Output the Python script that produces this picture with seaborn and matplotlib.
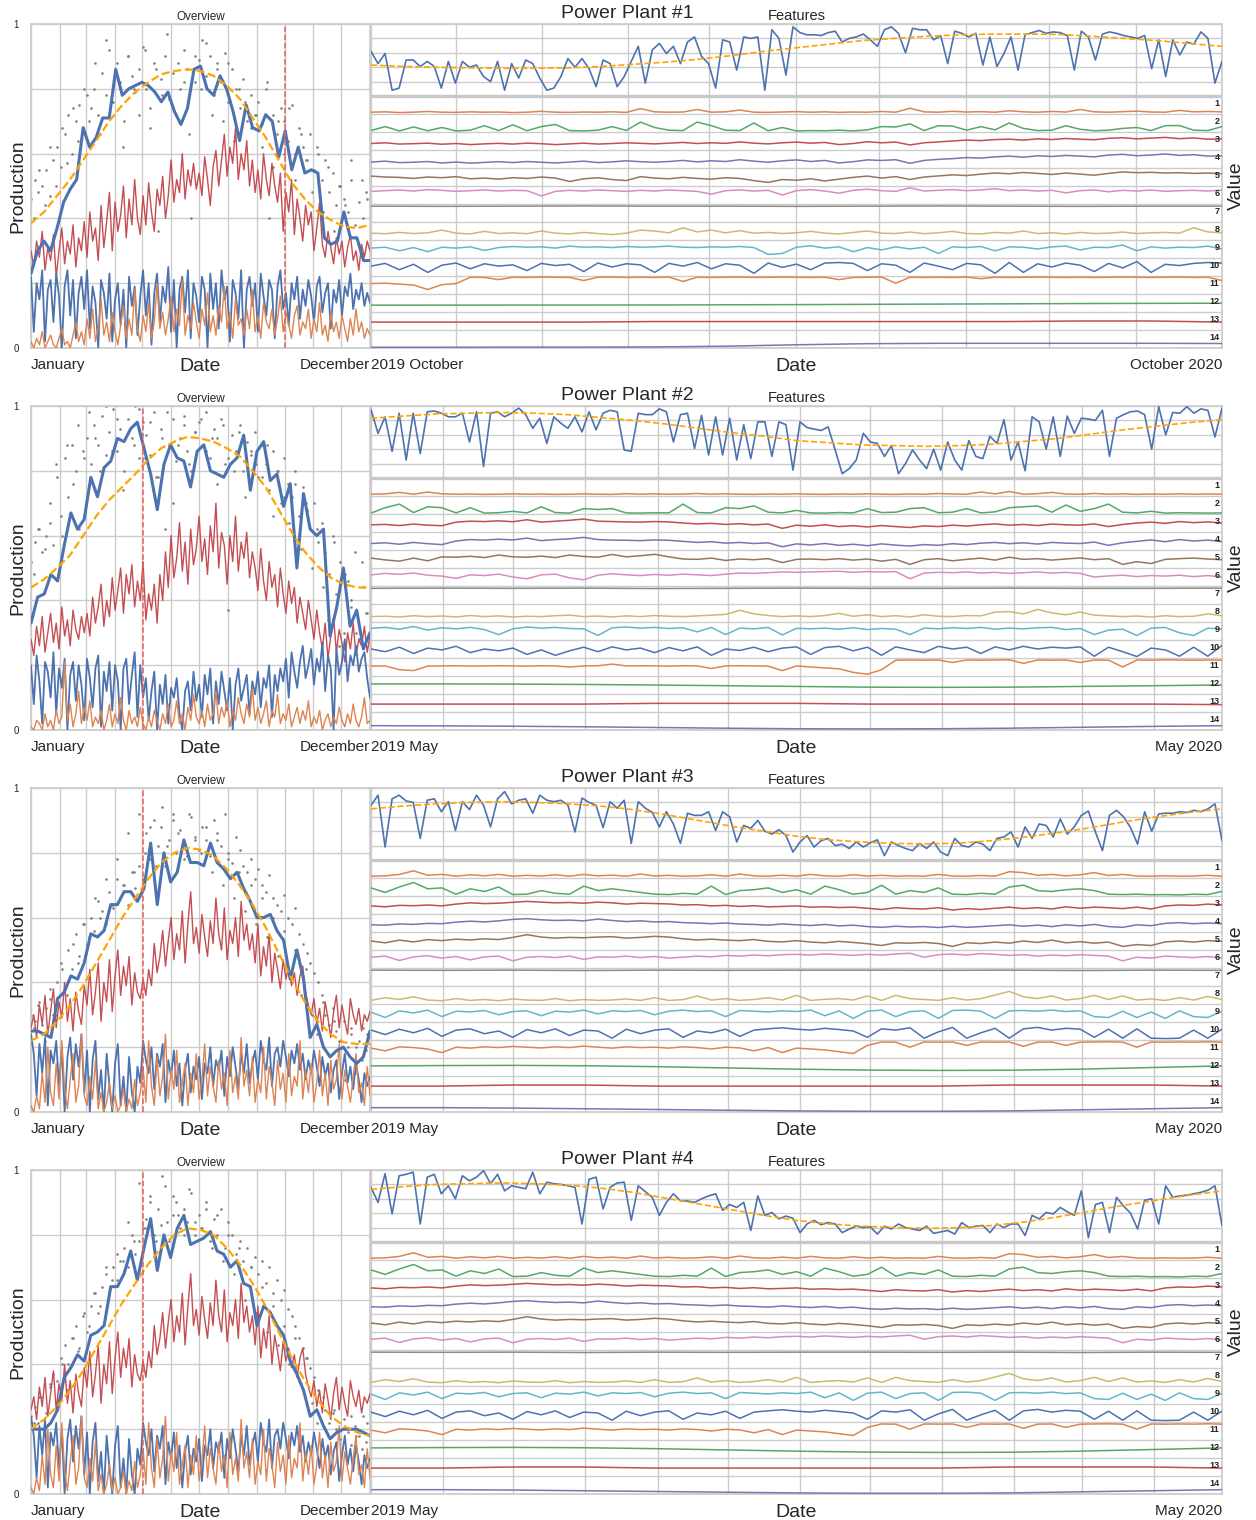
import numpy as np
import matplotlib
matplotlib.use("Agg")
import matplotlib.pyplot as plt
import seaborn as sns

# ---------------------------------------------------------------- labels
PLANT_TITLES = ["Power Plant #1", "Power Plant #2", "Power Plant #3", "Power Plant #4"]
LEFT_TICK_LABELS = ["January", "December"]
RIGHT_TICK_LABELS = [("2019 October", "October 2020"), ("2019 May", "May 2020"),
                     ("2019 May", "May 2020"), ("2019 May", "May 2020")]
CUTOFF_DAY = [274, 121, 121, 121]
MONTH_STARTS = [31, 59, 90, 120, 151, 181, 212, 243, 273, 304, 334]
RIGHT_GRID_R1 = [36.5, 73.3, 110.2, 145.0, 182.3, 217.9, 255.2, 290.8, 328.1]
RIGHT_GRID_R234 = [31, 61, 92, 123, 153, 184, 214, 245, 276, 305, 336]

# ---------------------------------------------------------------- row 1 overview
R1_SCATTER = [0.46,0.52,0.48,0.50,0.55,0.47,0.58,0.62,0.56,0.66,0.72,0.60,0.70,0.75,0.68,0.78,
              0.74,0.80,0.72,0.85,0.78,0.92,0.76,0.88,0.82,0.70,0.90,0.84,0.79,0.86,0.93,
              0.80,0.74,0.88,0.36,0.83,0.90,0.77,0.85,0.72,0.80,0.92,0.86,0.40,0.82,0.89,
              0.95,0.84,0.90,0.78,0.88,0.82,0.91,0.76,0.86,0.80,0.74,0.83,0.70,0.78,0.72,
              0.76,0.69,0.80,0.40,0.72,0.66,0.74,0.70,0.64,0.75,0.60,0.68,0.62,0.58,0.66,
              0.55,0.60,0.52,0.58,0.48,0.54,0.44,0.50,0.46,0.42,0.52,0.38,0.45,0.40,0.48,0.44]
R1_SCATTER_B = [0.40,0.55,0.44,0.62,0.50,0.68,0.57,0.74,0.64,0.80,
                0.70,0.88,0.66,0.95,0.76,0.84,0.62,0.90,0.80,0.72,
                0.92,0.68,0.86,0.78,0.97,0.74,0.88,0.82,0.66,0.90,
                0.80,0.94,0.72,0.86,0.70,0.88,0.64,0.80,0.76,0.68,
                0.72,0.62,0.82,0.56,0.70,0.60,0.74,0.52,0.66,0.58,
                0.48,0.62,0.42,0.56,0.36,0.50,0.44,0.58,0.34,0.52,0.46]
R1_WEEKLY = [0.23,0.30,0.33,0.30,0.37,0.45,0.49,0.52,0.68,0.62,0.65,0.71,0.71,0.86,0.78,0.80,
             0.81,0.82,0.81,0.79,0.76,0.79,0.73,0.69,0.74,0.86,0.87,0.80,0.78,0.84,0.80,0.73,
             0.64,0.75,0.68,0.67,0.72,0.70,0.59,0.67,0.55,0.62,0.54,0.55,0.54,0.34,0.32,0.33,
             0.42,0.34,0.34,0.27,0.27]
R1_FIT = [0.385,0.42,0.47,0.52,0.58,0.64,0.70,0.75,0.79,0.82,0.845,0.855,0.86,0.855,0.84,
          0.81,0.77,0.71,0.65,0.58,0.51,0.46,0.42,0.395,0.375,0.37,0.38]
R1_RED = [0.30,0.25,0.33,0.28,0.36,0.24,0.31,0.27,0.35,0.22,0.30,0.37,0.26,0.33,0.29,0.38,0.25,0.34,0.30,0.39,
          0.28,0.42,0.33,0.37,0.27,0.44,0.31,0.39,0.48,0.30,0.45,0.36,0.41,0.50,0.34,0.46,0.38,0.52,0.40,0.35,
          0.47,0.38,0.51,0.42,0.36,0.49,0.44,0.53,0.40,0.47,0.58,0.45,0.52,0.48,0.60,0.46,0.55,0.50,0.57,0.49,
          0.54,0.47,0.59,0.52,0.44,0.56,0.61,0.50,0.58,0.66,0.53,0.62,0.57,0.68,0.52,0.60,0.55,0.64,0.50,0.58,
          0.48,0.55,0.46,0.60,0.52,0.47,0.57,0.50,0.45,0.54,0.36,0.48,0.42,0.52,0.35,0.46,0.40,0.33,0.44,0.38,
          0.42,0.30,0.37,0.45,0.32,0.28,0.36,0.31,0.26,0.34,0.29,0.33,0.25,0.31,0.35,0.27,0.30,0.24,0.32,0.28,0.33,0.30]
R1_BLUE = [0.22,0.05,0.20,0.15,0.24,0.02,0.18,0.21,0.08,0.23,0.16,0.00,0.19,0.24,0.10,0.21,0.03,0.17,0.22,0.12,
           0.24,0.06,0.19,0.14,0.00,0.21,0.17,0.09,0.23,0.02,0.15,0.20,0.07,0.18,0.00,0.22,0.13,0.19,0.04,0.16,
           0.24,0.10,0.20,0.01,0.17,0.23,0.08,0.19,0.14,0.25,0.05,0.21,0.00,0.18,0.22,0.11,0.24,0.03,0.20,0.16,
           0.08,0.22,0.18,0.00,0.23,0.12,0.20,0.06,0.24,0.15,0.19,0.02,0.21,0.17,0.09,0.24,0.00,0.18,0.22,0.13,
           0.20,0.05,0.23,0.16,0.10,0.21,0.18,0.03,0.19,0.24,0.12,0.17,0.07,0.20,0.15,0.22,0.09,0.18,0.13,0.21,
           0.16,0.08,0.19,0.22,0.11,0.17,0.20,0.06,0.18,0.14,0.21,0.10,0.19,0.16,0.23,0.12,0.18,0.15,0.20,0.13,0.17,0.14]
R1_ORANGE = [0.02,0.00,0.03,0.01,0.05,0.00,0.02,0.04,0.01,0.00,0.03,0.06,0.01,0.02,0.00,0.04,0.08,0.02,0.05,0.01,
             0.09,0.03,0.12,0.02,0.06,0.15,0.04,0.08,0.02,0.11,0.05,0.01,0.07,0.13,0.03,0.09,0.04,0.18,0.06,0.02,
             0.10,0.05,0.14,0.03,0.08,0.20,0.06,0.11,0.04,0.09,0.16,0.05,0.12,0.07,0.21,0.04,0.10,0.06,0.14,0.08,
             0.03,0.12,0.07,0.17,0.05,0.10,0.04,0.13,0.08,0.19,0.06,0.11,0.03,0.15,0.07,0.09,0.04,0.12,0.06,0.18,
             0.05,0.10,0.03,0.14,0.08,0.06,0.12,0.04,0.09,0.16,0.05,0.11,0.07,0.03,0.10,0.13,0.04,0.08,0.06,0.12,
             0.03,0.09,0.05,0.14,0.04,0.07,0.02,0.11,0.05,0.08,0.03,0.10,0.06,0.02,0.09,0.04,0.12,0.05,0.08,0.03,0.06,0.04]

# ---------------------------------------------------------------- row 2 overview
R2_SCATTER = [0.52,0.58,0.62,0.55,0.60,0.64,0.57,0.78,0.66,0.84,0.72,0.88,0.80,0.62,0.86,0.90,
              0.82,0.94,0.88,0.97,0.85,0.92,0.99,0.86,0.93,0.80,0.96,0.90,1.00,0.84,0.95,
              0.91,0.85,0.98,0.78,0.93,0.62,0.88,0.96,0.83,0.90,0.97,0.86,0.80,0.92,0.95,
              0.88,0.98,0.84,0.93,0.90,0.96,0.82,0.37,0.91,0.86,0.94,0.80,0.89,0.85,0.92,
              0.78,0.88,0.82,0.74,0.86,0.80,0.70,0.84,0.76,0.72,0.80,0.66,0.75,0.68,0.62,
              0.70,0.58,0.64,0.55,0.48,0.60,0.42,0.52,0.30,0.46,0.38,0.55,0.28,0.44,0.36,0.40]
R2_SCATTER_B = [0.48,0.62,0.56,0.70,0.82,0.60,0.88,0.76,0.94,0.84,
                0.98,0.90,0.80,1.00,0.86,0.96,0.74,0.92,0.88,0.99,
                0.84,0.95,0.78,0.90,0.98,0.70,0.88,0.94,0.82,0.92,
                0.96,0.86,0.90,0.76,0.94,0.84,0.80,0.92,0.72,0.86,
                0.82,0.78,0.88,0.66,0.80,0.72,0.64,0.76,0.56,0.70,
                0.50,0.62,0.44,0.34,0.58,0.26,0.48,0.40,0.30,0.52,0.36]
R2_WEEKLY = [0.33,0.41,0.42,0.48,0.46,0.57,0.67,0.62,0.65,0.78,0.72,0.81,0.83,0.90,0.89,0.93,
             0.95,0.87,0.79,0.68,0.82,0.88,0.84,0.83,0.75,0.86,0.88,0.80,0.79,0.78,0.82,0.84,
             0.91,0.74,0.86,0.89,0.77,0.79,0.69,0.76,0.50,0.73,0.62,0.60,0.62,0.29,0.38,0.50,
             0.32,0.37,0.25,0.30]
R2_FIT = [0.44,0.465,0.50,0.54,0.60,0.66,0.71,0.75,0.79,0.835,0.87,0.89,0.905,0.90,0.89,
          0.87,0.845,0.80,0.75,0.68,0.61,0.55,0.505,0.47,0.45,0.44,0.44]
R2_RED = [0.28,0.23,0.32,0.26,0.35,0.24,0.30,0.36,0.27,0.33,0.25,0.38,0.29,0.34,0.26,0.37,0.31,0.28,0.35,0.30,
          0.36,0.29,0.41,0.33,0.38,0.45,0.32,0.40,0.35,0.47,0.37,0.43,0.50,0.36,0.48,0.42,0.51,0.38,0.46,0.40,
          0.52,0.34,0.42,0.37,0.45,0.33,0.48,0.40,0.55,0.44,0.60,0.47,0.53,0.64,0.49,0.58,0.45,0.62,0.51,0.56,
          0.66,0.52,0.59,0.48,0.63,0.55,0.70,0.50,0.61,0.57,0.45,0.60,0.52,0.66,0.49,0.58,0.53,0.61,0.47,0.55,
          0.50,0.43,0.56,0.46,0.40,0.52,0.44,0.48,0.38,0.50,0.42,0.36,0.46,0.39,0.44,0.33,0.41,0.36,0.31,0.40,
          0.34,0.28,0.37,0.30,0.25,0.33,0.22,0.29,0.35,0.24,0.31,0.27,0.21,0.30,0.25,0.33,0.23,0.28,0.26,0.32,0.24,0.29]
R2_BLUE = [0.20,0.08,0.23,0.15,0.02,0.21,0.18,0.10,0.24,0.05,0.19,0.13,0.22,0.00,0.17,0.21,0.09,0.20,0.14,0.03,
           0.22,0.16,0.07,0.19,0.23,0.01,0.18,0.12,0.21,0.06,0.20,0.15,0.00,0.19,0.22,0.08,0.17,0.24,0.04,0.20,
           0.10,0.16,0.03,0.12,0.18,0.00,0.14,0.08,0.17,0.02,0.13,0.10,0.16,0.05,0.00,0.12,0.15,0.06,0.18,0.09,
           0.14,0.04,0.17,0.11,0.19,0.02,0.15,0.08,0.18,0.12,0.06,0.16,0.00,0.14,0.19,0.09,0.13,0.17,0.05,0.15,
           0.11,0.18,0.07,0.16,0.13,0.20,0.04,0.17,0.12,0.19,0.15,0.22,0.10,0.24,0.18,0.13,0.21,0.26,0.16,0.20,
           0.25,0.14,0.22,0.18,0.27,0.12,0.23,0.19,0.00,0.25,0.17,0.21,0.28,0.15,0.23,0.20,0.26,0.18,0.22,0.24,0.16,0.10]
R2_ORANGE = [0.01,0.00,0.03,0.02,0.00,0.05,0.01,0.03,0.00,0.06,0.02,0.04,0.21,0.03,0.08,0.01,0.05,0.12,0.02,0.07,
             0.03,0.09,0.01,0.04,0.02,0.06,0.00,0.03,0.08,0.01,0.05,0.02,0.10,0.03,0.00,0.06,0.02,0.04,0.01,0.07,
             0.02,0.00,0.04,0.01,0.06,0.03,0.00,0.05,0.02,0.08,0.01,0.03,0.09,0.02,0.05,0.00,0.07,0.03,0.11,0.04,
             0.02,0.06,0.01,0.08,0.03,0.05,0.12,0.02,0.07,0.04,0.09,0.01,0.06,0.03,0.10,0.05,0.02,0.08,0.04,0.13,
             0.03,0.07,0.02,0.05,0.09,0.01,0.06,0.04,0.11,0.02,0.05,0.03,0.08,0.01,0.04,0.07,0.02,0.06,0.03,0.09,
             0.01,0.04,0.02,0.06,0.00,0.03,0.05,0.01,0.04,0.02,0.07,0.03,0.01,0.05,0.02,0.08,0.03,0.01,0.04,0.10,0.02,0.03]

# ---------------------------------------------------------------- rows 3 & 4 overview
R3_SCATTER = [0.30,0.28,0.33,0.27,0.32,0.35,0.30,0.40,0.46,0.38,0.50,0.44,0.55,0.48,0.58,0.52,
              0.60,0.56,0.65,0.62,0.58,0.68,0.63,0.72,0.66,0.70,0.64,0.74,0.69,0.76,0.72,
              0.86,0.78,0.90,0.82,0.88,0.76,0.84,0.92,0.80,0.87,0.83,0.79,0.91,0.85,0.81,
              0.88,0.84,0.79,0.90,0.86,0.82,0.92,0.80,0.77,0.85,0.81,0.76,0.74,0.78,0.72,
              0.75,0.70,0.68,0.73,0.66,0.64,0.62,0.67,0.60,0.58,0.63,0.55,0.52,0.49,0.46,
              0.43,0.40,0.36,0.30,0.27,0.32,0.25,0.22,0.28,0.20,0.24,0.12,0.22,0.26,0.19,0.23]
R3_SCATTER_B = [0.26,0.34,0.22,0.38,0.30,0.44,0.36,0.52,0.46,0.58,
                0.54,0.66,0.60,0.72,0.64,0.78,0.70,0.86,0.74,0.92,
                0.80,0.88,0.76,0.94,0.82,0.90,0.86,0.78,0.92,0.84,
                0.80,0.88,0.74,0.84,0.70,0.78,0.66,0.74,0.62,0.70,
                0.58,0.66,0.54,0.60,0.48,0.56,0.42,0.50,0.36,0.44,
                0.30,0.24,0.34,0.18,0.28,0.22,0.10,0.26,0.20,0.16,0.24]
R4_SCATTER = [0.24,0.27,0.22,0.30,0.25,0.33,0.37,0.35,0.42,0.46,0.40,0.48,0.52,0.45,0.55,0.50,
              0.58,0.62,0.56,0.64,0.68,0.62,0.70,0.66,0.72,0.76,0.70,0.80,0.74,0.78,0.82,
              0.85,0.92,0.80,0.88,0.83,0.95,0.78,0.86,0.90,0.82,0.88,0.84,0.93,0.80,0.86,
              0.82,0.90,0.78,0.85,0.80,0.88,0.76,0.84,0.80,0.74,0.78,0.72,0.76,0.70,0.73,
              0.68,0.72,0.65,0.70,0.62,0.66,0.60,0.63,0.57,0.55,0.52,0.48,0.45,0.42,0.39,
              0.36,0.32,0.28,0.26,0.22,0.25,0.20,0.17,0.23,0.19,0.15,0.21,0.18,0.24,0.16,0.20]
R4_SCATTER_B = [0.22,0.30,0.18,0.34,0.28,0.40,0.32,0.48,0.44,0.56,
                0.52,0.62,0.58,0.70,0.66,0.74,0.72,0.84,0.78,0.96,
                0.82,0.90,0.78,0.98,0.84,0.92,0.86,0.80,0.94,0.84,
                0.82,0.88,0.76,0.86,0.72,0.80,0.68,0.76,0.60,0.70,
                0.56,0.64,0.50,0.58,0.46,0.52,0.40,0.48,0.34,0.42,
                0.28,0.22,0.30,0.18,0.26,0.20,0.12,0.24,0.18,0.14,0.22]
R3_WEEKLY = [0.25,0.25,0.24,0.23,0.35,0.37,0.42,0.41,0.46,0.55,0.54,0.56,0.64,0.64,0.68,0.68,
             0.65,0.69,0.83,0.64,0.80,0.71,0.74,0.84,0.77,0.77,0.76,0.83,0.77,0.75,0.72,0.74,
             0.69,0.65,0.60,0.60,0.61,0.56,0.53,0.41,0.50,0.41,0.23,0.27,0.20,0.17,0.19,0.20,
             0.17,0.15,0.17,0.25]
R4_WEEKLY = [0.20,0.20,0.20,0.22,0.26,0.36,0.39,0.43,0.41,0.49,0.50,0.52,0.64,0.64,0.68,0.75,
             0.66,0.76,0.85,0.69,0.80,0.73,0.82,0.86,0.77,0.78,0.79,0.81,0.75,0.74,0.70,0.72,
             0.65,0.64,0.52,0.58,0.56,0.52,0.49,0.41,0.37,0.32,0.24,0.26,0.21,0.17,0.19,0.20,
             0.20,0.20,0.19,0.18]
R3_FIT = [0.22,0.24,0.28,0.33,0.39,0.46,0.53,0.60,0.66,0.72,0.77,0.80,0.815,0.81,0.79,
          0.75,0.70,0.64,0.57,0.49,0.41,0.34,0.28,0.24,0.215,0.21,0.21]
R4_FIT = [0.20,0.23,0.27,0.32,0.38,0.45,0.52,0.59,0.65,0.71,0.76,0.80,0.82,0.815,0.80,
          0.76,0.71,0.65,0.58,0.50,0.42,0.35,0.29,0.24,0.21,0.19,0.18]
R34_RED = [0.26,0.30,0.23,0.33,0.27,0.36,0.24,0.31,0.38,0.26,0.34,0.29,0.40,0.28,0.35,0.25,0.37,0.31,0.27,0.39,
           0.33,0.44,0.30,0.37,0.46,0.28,0.40,0.34,0.47,0.31,0.42,0.50,0.36,0.45,0.39,0.48,0.33,0.43,0.37,0.35,
           0.41,0.36,0.44,0.39,0.52,0.43,0.48,0.56,0.45,0.53,0.60,0.47,0.55,0.50,0.62,0.46,0.58,0.68,0.52,0.57,
           0.49,0.61,0.54,0.48,0.59,0.52,0.66,0.55,0.50,0.63,0.47,0.56,0.52,0.60,0.48,0.65,0.53,0.58,0.50,0.55,
           0.46,0.58,0.42,0.51,0.45,0.55,0.40,0.49,0.44,0.38,0.47,0.41,0.45,0.39,0.43,0.36,0.42,0.45,0.37,0.33,
           0.30,0.35,0.27,0.32,0.25,0.34,0.29,0.23,0.31,0.36,0.26,0.33,0.28,0.24,0.35,0.30,0.27,0.32,0.25,0.30,0.28,0.31]
R34_BLUE = [0.24,0.18,0.05,0.21,0.12,0.23,0.02,0.19,0.15,0.22,0.08,0.20,0.00,0.17,0.23,0.10,0.21,0.14,0.24,0.06,
            0.19,0.00,0.16,0.22,0.04,0.13,0.00,0.18,0.08,0.00,0.15,0.21,0.02,0.11,0.00,0.17,0.06,0.00,0.14,0.09,
            0.22,0.16,0.12,0.20,0.07,0.18,0.14,0.21,0.03,0.16,0.11,0.19,0.08,0.15,0.02,0.13,0.18,0.06,0.14,0.10,
            0.17,0.04,0.15,0.12,0.20,0.08,0.16,0.13,0.19,0.05,0.17,0.11,0.20,0.14,0.07,0.18,0.12,0.21,0.09,0.15,
            0.19,0.10,0.22,0.16,0.13,0.23,0.08,0.18,0.20,0.14,0.22,0.17,0.11,0.19,0.15,0.21,0.13,0.18,0.10,0.16,
            0.12,0.19,0.14,0.08,0.17,0.11,0.15,0.06,0.13,0.16,0.04,0.12,0.18,0.09,0.14,0.07,0.15,0.10,0.03,0.12,0.08,0.11]
R34_ORANGE = [0.02,0.00,0.05,0.01,0.12,0.03,0.20,0.06,0.02,0.15,0.04,0.22,0.07,0.01,0.10,0.18,0.03,0.08,0.24,0.05,
              0.02,0.11,0.04,0.16,0.01,0.06,0.00,0.03,0.09,0.01,0.05,0.00,0.02,0.07,0.00,0.04,0.01,0.10,0.02,0.06,
              0.14,0.03,0.22,0.08,0.02,0.17,0.05,0.11,0.24,0.04,0.13,0.07,0.19,0.03,0.09,0.15,0.02,0.12,0.06,0.18,
              0.04,0.10,0.21,0.05,0.14,0.08,0.03,0.16,0.07,0.12,0.02,0.19,0.06,0.11,0.04,0.23,0.08,0.13,0.05,0.17,
              0.03,0.10,0.06,0.20,0.04,0.14,0.09,0.02,0.16,0.07,0.12,0.03,0.18,0.05,0.11,0.08,0.22,0.04,0.13,0.06,
              0.15,0.03,0.09,0.19,0.05,0.12,0.02,0.16,0.07,0.10,0.21,0.04,0.13,0.08,0.03,0.11,0.18,0.06,0.09,0.02,0.14,0.05]

# ---------------------------------------------------------------- production in feature panels
R1_PROD = [0.62,0.45,0.59,0.08,0.11,0.50,0.50,0.41,0.48,0.41,0.11,0.48,0.18,0.48,0.40,0.43,0.27,0.20,0.48,0.08,
           0.45,0.25,0.50,0.45,0.25,0.08,0.11,0.27,0.52,0.40,0.52,0.38,0.13,0.50,0.45,0.13,0.27,0.48,0.69,0.18,
           0.64,0.73,0.59,0.69,0.45,0.75,0.82,0.55,0.45,0.11,0.78,0.75,0.36,0.82,0.80,0.82,0.08,0.92,0.80,0.29,
           0.96,0.88,0.85,0.85,0.84,0.88,0.90,0.75,0.80,0.82,0.86,0.78,0.69,0.92,0.96,0.87,0.60,0.94,0.92,0.92,
           0.78,0.84,0.45,0.90,0.87,0.82,0.87,0.43,0.82,0.41,0.59,0.82,0.36,0.85,0.88,0.91,0.87,0.89,0.88,0.84,
           0.36,0.90,0.82,0.50,0.86,0.89,0.87,0.84,0.82,0.80,0.84,0.38,0.78,0.27,0.78,0.57,0.75,0.72,0.89,0.80,0.18,0.48]
R1_TREND = [0.43,0.41,0.40,0.39,0.385,0.385,0.39,0.41,0.44,0.47,0.51,0.56,0.62,0.67,0.72,
            0.77,0.80,0.83,0.85,0.86,0.86,0.855,0.83,0.80,0.77,0.73,0.69]
R2_PROD = [0.95,0.62,0.85,0.37,0.90,0.25,0.90,0.34,0.92,0.93,0.90,0.85,0.85,0.90,0.50,0.92,0.16,0.90,0.92,0.85,
           0.90,0.97,0.88,0.69,0.83,0.48,0.85,0.76,0.69,0.85,0.64,0.92,0.67,0.90,0.94,0.92,0.39,0.37,0.90,0.88,
           0.88,0.96,0.92,0.50,0.88,0.90,0.41,0.87,0.32,0.85,0.32,0.83,0.25,0.74,0.27,0.78,0.78,0.30,0.78,0.74,
           0.11,0.78,0.70,0.68,0.66,0.71,0.39,0.06,0.13,0.25,0.62,0.50,0.48,0.30,0.45,0.06,0.20,0.39,0.25,0.13,
           0.40,0.11,0.50,0.25,0.11,0.52,0.30,0.27,0.58,0.48,0.81,0.25,0.50,0.10,0.85,0.78,0.40,0.85,0.30,0.86,
           0.62,0.83,0.82,0.80,0.94,0.30,0.83,0.88,0.92,0.93,0.88,0.40,0.99,0.60,0.91,0.90,0.99,0.90,0.96,0.94,0.57,0.97]
R2_TREND = [0.83,0.86,0.89,0.90,0.91,0.90,0.88,0.84,0.80,0.75,0.69,0.63,0.58,0.52,0.49,
            0.46,0.45,0.44,0.45,0.47,0.51,0.55,0.61,0.67,0.72,0.77,0.81]
R3_PROD = [0.76,0.90,0.18,0.85,0.90,0.82,0.80,0.30,0.83,0.85,0.67,0.81,0.41,0.81,0.70,0.90,0.76,0.46,0.85,0.95,
           0.78,0.83,0.85,0.65,0.90,0.83,0.81,0.83,0.76,0.39,0.86,0.80,0.76,0.45,0.81,0.72,0.83,0.23,0.81,0.72,
           0.66,0.46,0.67,0.50,0.23,0.65,0.62,0.62,0.67,0.41,0.67,0.60,0.25,0.48,0.44,0.55,0.40,0.36,0.42,0.34,
           0.11,0.25,0.34,0.18,0.27,0.30,0.20,0.22,0.16,0.25,0.18,0.24,0.28,0.06,0.25,0.20,0.16,0.13,0.23,0.16,
           0.25,0.11,0.06,0.30,0.20,0.18,0.25,0.22,0.13,0.30,0.32,0.39,0.18,0.46,0.30,0.50,0.48,0.32,0.57,0.36,
           0.46,0.62,0.68,0.39,0.13,0.62,0.69,0.60,0.45,0.22,0.67,0.40,0.64,0.65,0.65,0.67,0.66,0.69,0.67,0.71,0.78,0.27]
R3_TREND = [0.71,0.75,0.78,0.80,0.81,0.80,0.78,0.75,0.70,0.63,0.55,0.47,0.40,0.33,0.28,
            0.25,0.23,0.225,0.235,0.27,0.32,0.38,0.45,0.53,0.60,0.66,0.71]
R4_PROD = [0.76,0.55,0.95,0.39,0.92,0.94,0.97,0.25,0.90,0.94,0.67,0.78,0.60,0.92,0.85,0.90,0.99,0.81,0.94,0.71,
           0.78,0.76,0.74,0.97,0.67,0.83,0.81,0.80,0.78,0.76,0.25,0.87,0.90,0.46,0.76,0.82,0.83,0.30,0.78,0.70,
           0.62,0.37,0.55,0.67,0.57,0.57,0.55,0.60,0.64,0.67,0.44,0.52,0.48,0.55,0.16,0.64,0.37,0.41,0.32,0.36,
           0.33,0.13,0.25,0.30,0.24,0.27,0.25,0.13,0.18,0.22,0.20,0.21,0.11,0.22,0.18,0.25,0.20,0.18,0.16,0.22,
           0.12,0.14,0.16,0.11,0.27,0.20,0.22,0.23,0.13,0.25,0.20,0.25,0.25,0.09,0.37,0.32,0.41,0.39,0.48,0.42,
           0.37,0.71,0.06,0.52,0.55,0.13,0.62,0.50,0.40,0.18,0.58,0.60,0.25,0.78,0.62,0.64,0.65,0.67,0.69,0.72,0.78,0.23]
R4_TREND = [0.73,0.77,0.80,0.81,0.82,0.81,0.79,0.75,0.69,0.61,0.53,0.45,0.37,0.30,0.25,
            0.22,0.20,0.19,0.20,0.23,0.28,0.35,0.43,0.51,0.58,0.65,0.71]

# ---------------------------------------------------------------- row 1 features
R1_F01 = [0.10,0.12,0.08,0.10,0.14,0.10,0.09,0.12,0.10,0.11,0.08,0.10,0.15,0.10,0.09,0.11,0.10,0.12,0.09,0.30,
          0.12,0.10,0.11,0.25,0.10,0.12,0.22,0.10,0.09,0.11,0.13,0.10,0.12,0.09,0.11,0.10,0.14,0.10,0.32,0.12,
          0.10,0.15,0.11,0.13,0.10,0.18,0.12,0.10,0.14,0.11,0.25,0.12,0.10,0.13,0.16,0.11,0.10,0.20,0.12,0.14,0.12]
R1_F02 = [0.08,0.30,0.06,0.28,0.07,0.25,0.06,0.10,0.35,0.08,0.40,0.07,0.30,0.42,0.08,0.06,0.10,0.30,0.09,0.55,
          0.25,0.10,0.08,0.55,0.35,0.10,0.08,0.50,0.07,0.25,0.06,0.08,0.07,0.10,0.06,0.12,0.30,0.28,0.45,0.08,
          0.35,0.33,0.10,0.30,0.12,0.50,0.20,0.08,0.10,0.35,0.15,0.07,0.10,0.20,0.25,0.08,0.35,0.36,0.10,0.08,0.30]
R1_F03 = [0.36,0.40,0.33,0.35,0.38,0.32,0.36,0.30,0.34,0.37,0.33,0.38,0.35,0.30,0.34,0.38,0.33,0.36,0.40,0.37,
          0.34,0.38,0.42,0.36,0.40,0.37,0.45,0.38,0.34,0.40,0.44,0.38,0.42,0.30,0.36,0.46,0.40,0.44,0.28,0.40,
          0.45,0.50,0.55,0.52,0.58,0.60,0.55,0.62,0.58,0.64,0.60,0.57,0.65,0.68,0.62,0.66,0.70,0.63,0.67,0.60,0.62]
R1_F04 = [0.33,0.38,0.30,0.32,0.36,0.28,0.33,0.27,0.31,0.35,0.30,0.36,0.32,0.28,0.33,0.38,0.30,0.34,0.40,0.35,
          0.32,0.36,0.42,0.34,0.40,0.36,0.46,0.38,0.32,0.40,0.45,0.36,0.42,0.28,0.35,0.45,0.42,0.46,0.26,0.42,
          0.48,0.52,0.58,0.55,0.62,0.66,0.60,0.68,0.64,0.70,0.66,0.62,0.72,0.76,0.68,0.72,0.78,0.70,0.74,0.66,0.68]
R1_F05 = [0.55,0.50,0.48,0.42,0.50,0.46,0.52,0.40,0.44,0.38,0.46,0.42,0.50,0.44,0.25,0.40,0.46,0.36,0.30,0.52,
          0.44,0.40,0.48,0.42,0.38,0.46,0.42,0.30,0.20,0.36,0.32,0.40,0.28,0.38,0.48,0.55,0.44,0.52,0.36,0.50,
          0.56,0.62,0.58,0.66,0.72,0.68,0.75,0.70,0.64,0.72,0.66,0.60,0.70,0.78,0.74,0.76,0.72,0.74,0.70,0.72,0.68]
R1_F06 = [0.70,0.74,0.78,0.72,0.80,0.76,0.70,0.74,0.78,0.72,0.76,0.74,0.45,0.70,0.76,0.72,0.78,0.74,0.70,0.76,
          0.72,0.78,0.74,0.70,0.55,0.74,0.78,0.72,0.76,0.50,0.74,0.80,0.72,0.60,0.76,0.82,0.74,0.70,0.90,0.72,
          0.76,0.80,0.74,0.78,0.85,0.74,0.78,0.72,0.76,0.62,0.74,0.78,0.68,0.76,0.72,0.78,0.70,0.74,0.76,0.72,0.78]
R1_F07 = [0.88,0.87,0.88,0.89,0.88,0.88,0.87,0.88,0.89,0.88,0.87,0.88,0.88]
R1_F08 = [0.38,0.35,0.42,0.36,0.40,0.55,0.38,0.34,0.48,0.36,0.40,0.35,0.50,0.38,0.34,0.42,0.36,0.30,0.38,0.55,
          0.50,0.40,0.68,0.45,0.55,0.40,0.52,0.38,0.42,0.36,0.40,0.48,0.38,0.34,0.42,0.50,0.38,0.36,0.44,0.35,
          0.40,0.48,0.36,0.34,0.42,0.38,0.50,0.36,0.40,0.34,0.42,0.36,0.38,0.44,0.36,0.40,0.42,0.38,0.68,0.45,0.40]
R1_F09 = [0.55,0.60,0.40,0.58,0.35,0.60,0.55,0.62,0.42,0.58,0.64,0.60,0.62,0.55,0.66,0.60,0.62,0.58,0.64,0.60,
          0.62,0.66,0.60,0.58,0.62,0.60,0.64,0.58,0.20,0.25,0.60,0.68,0.55,0.62,0.35,0.58,0.45,0.62,0.50,0.60,
          0.25,0.62,0.58,0.64,0.40,0.62,0.60,0.50,0.62,0.66,0.45,0.60,0.58,0.72,0.40,0.62,0.55,0.60,0.58,0.66,0.50]
R1_F10 = [0.55,0.70,0.35,0.65,0.20,0.60,0.72,0.40,0.68,0.55,0.62,0.30,0.70,0.58,0.65,0.25,0.72,0.50,0.68,0.62,
          0.20,0.70,0.55,0.75,0.40,0.68,0.60,0.15,0.72,0.48,0.66,0.35,0.72,0.75,0.70,0.30,0.68,0.60,0.20,0.72,
          0.55,0.35,0.70,0.62,0.15,0.75,0.20,0.68,0.50,0.72,0.60,0.25,0.70,0.45,0.80,0.20,0.65,0.58,0.70,0.75,0.72]
R1_F11 = [0.58,0.60,0.55,0.50,0.25,0.52,0.58,0.93,0.92,0.80,0.93,0.92,0.94,0.93,0.92,0.75,0.93,0.94,0.92,0.93,
          0.92,0.94,0.70,0.93,0.92,0.93,0.94,0.92,0.93,0.94,0.93,0.92,0.93,0.80,0.92,0.93,0.94,0.60,0.93,0.92,
          0.93,0.92,0.94,0.85,0.93,0.92,0.93,0.94,0.93,0.92,0.93,0.92,0.93,0.94,0.93,0.92,0.93,0.94,0.92,0.93,0.75]
R1_F12 = [0.38,0.385,0.39,0.41,0.44,0.47,0.49]
R1_F13 = [0.44,0.44,0.44,0.44,0.47,0.47,0.47,0.47,0.47,0.47,0.50,0.50,0.44]
R1_F14 = [0.04,0.04,0.05,0.05,0.06,0.10,0.18,0.24,0.26,0.26,0.26,0.26,0.25]

# ---------------------------------------------------------------- row 2 features
R2_F01 = [0.10,0.12,0.20,0.10,0.22,0.12,0.10,0.11,0.09,0.10,0.12,0.10,0.11,0.09,0.10,0.12,0.10,0.09,0.13,0.10,
          0.12,0.10,0.11,0.14,0.10,0.12,0.10,0.09,0.11,0.10,0.12,0.10,0.09,0.11,0.10,0.12,0.10,0.09,0.11,0.10,
          0.14,0.11,0.10,0.22,0.12,0.25,0.10,0.13,0.20,0.11,0.10,0.14,0.10,0.12,0.09,0.11,0.10,0.12,0.10,0.11,0.10]
R2_F02 = [0.05,0.35,0.55,0.08,0.40,0.35,0.06,0.35,0.05,0.07,0.15,0.06,0.40,0.08,0.05,0.30,0.25,0.30,0.06,0.05,
          0.07,0.06,0.55,0.08,0.06,0.35,0.30,0.45,0.10,0.06,0.20,0.06,0.05,0.08,0.06,0.30,0.08,0.10,0.30,0.35,
          0.07,0.10,0.30,0.06,0.12,0.35,0.40,0.45,0.10,0.50,0.15,0.30,0.55,0.10,0.06,0.15,0.05,0.07,0.06,0.05,0.06]
R2_F03 = [0.40,0.42,0.36,0.44,0.38,0.35,0.55,0.60,0.58,0.62,0.57,0.68,0.55,0.60,0.65,0.72,0.60,0.58,0.56,0.55,
          0.58,0.56,0.50,0.45,0.48,0.42,0.46,0.40,0.44,0.20,0.38,0.32,0.40,0.30,0.35,0.28,0.36,0.30,0.25,0.34,
          0.30,0.38,0.33,0.40,0.45,0.38,0.42,0.36,0.44,0.40,0.38,0.45,0.30,0.42,0.50,0.55,0.48,0.58,0.52,0.56,0.50]
R2_F04 = [0.36,0.40,0.32,0.42,0.35,0.30,0.50,0.58,0.55,0.60,0.56,0.66,0.52,0.58,0.62,0.70,0.58,0.55,0.54,0.52,
          0.56,0.54,0.48,0.42,0.46,0.38,0.42,0.36,0.40,0.18,0.34,0.28,0.36,0.26,0.32,0.24,0.34,0.27,0.22,0.30,
          0.26,0.35,0.30,0.38,0.42,0.35,0.40,0.33,0.42,0.38,0.36,0.44,0.26,0.40,0.48,0.56,0.46,0.58,0.50,0.55,0.46]
R2_F05 = [0.55,0.45,0.38,0.55,0.40,0.62,0.60,0.65,0.58,0.72,0.62,0.60,0.66,0.58,0.72,0.64,0.60,0.75,0.62,0.68,
          0.76,0.62,0.50,0.48,0.55,0.42,0.50,0.46,0.52,0.30,0.48,0.50,0.46,0.52,0.44,0.50,0.38,0.48,0.20,0.46,
          0.52,0.40,0.48,0.55,0.44,0.60,0.48,0.52,0.44,0.50,0.56,0.46,0.52,0.20,0.35,0.25,0.48,0.52,0.55,0.50,0.46]
R2_F06 = [0.62,0.70,0.65,0.72,0.60,0.55,0.42,0.62,0.58,0.66,0.50,0.40,0.62,0.66,0.45,0.35,0.60,0.68,0.62,0.58,
          0.64,0.60,0.66,0.62,0.58,0.66,0.72,0.70,0.74,0.78,0.76,0.78,0.80,0.82,0.76,0.80,0.78,0.80,0.40,0.72,
          0.76,0.74,0.78,0.72,0.76,0.70,0.74,0.78,0.72,0.76,0.70,0.50,0.56,0.60,0.52,0.58,0.55,0.60,0.52,0.58,0.50]
R2_F07 = [0.87,0.88,0.87,0.88,0.86,0.87,0.88,0.87,0.87,0.88,0.87,0.87,0.88]
R2_F08 = [0.30,0.32,0.28,0.35,0.30,0.33,0.28,0.36,0.30,0.34,0.28,0.32,0.30,0.35,0.38,0.30,0.33,0.28,0.34,0.30,
          0.36,0.32,0.30,0.34,0.38,0.42,0.65,0.45,0.36,0.30,0.34,0.30,0.36,0.48,0.32,0.40,0.30,0.35,0.28,0.40,
          0.32,0.30,0.36,0.34,0.55,0.58,0.45,0.70,0.50,0.40,0.55,0.38,0.34,0.30,0.33,0.28,0.35,0.30,0.32,0.45,0.35]
R2_F09 = [0.65,0.70,0.60,0.75,0.55,0.68,0.62,0.70,0.58,0.30,0.62,0.72,0.66,0.70,0.64,0.62,0.25,0.68,0.72,0.66,
          0.70,0.64,0.68,0.45,0.70,0.30,0.66,0.62,0.70,0.28,0.65,0.62,0.66,0.60,0.68,0.58,0.64,0.60,0.30,0.66,
          0.62,0.68,0.64,0.70,0.60,0.66,0.62,0.68,0.70,0.58,0.64,0.30,0.55,0.60,0.25,0.66,0.70,0.40,0.25,0.66,0.60]
R2_F10 = [0.50,0.35,0.60,0.25,0.55,0.45,0.65,0.30,0.50,0.40,0.55,0.20,0.45,0.15,0.40,0.60,0.35,0.62,0.45,0.55,
          0.30,0.58,0.40,0.62,0.15,0.50,0.42,0.60,0.35,0.55,0.62,0.20,0.58,0.65,0.40,0.60,0.15,0.62,0.45,0.30,
          0.65,0.50,0.60,0.25,0.62,0.45,0.65,0.50,0.60,0.55,0.62,0.10,0.60,0.35,0.08,0.55,0.45,0.10,0.60,0.10,0.70]
R2_F11 = [0.55,0.56,0.35,0.30,0.55,0.56,0.57,0.55,0.56,0.57,0.56,0.55,0.57,0.56,0.50,0.56,0.57,0.66,0.56,0.57,
          0.56,0.55,0.57,0.56,0.42,0.56,0.57,0.56,0.55,0.30,0.56,0.50,0.45,0.40,0.20,0.10,0.35,0.88,0.89,0.88,
          0.89,0.75,0.89,0.88,0.89,0.90,0.70,0.89,0.88,0.89,0.75,0.89,0.88,0.50,0.89,0.88,0.90,0.89,0.88,0.89,0.88]
R2_F12 = [0.56,0.56,0.55,0.53,0.50,0.46,0.42,0.38,0.37,0.38,0.42,0.46,0.50]
R2_F13 = [0.44,0.44,0.44,0.44,0.48,0.48,0.48,0.44,0.44,0.44,0.44,0.44,0.41]
R2_F14 = [0.24,0.23,0.21,0.18,0.14,0.10,0.07,0.06,0.07,0.10,0.15,0.20,0.24]

# ---------------------------------------------------------------- rows 3 & 4 features (same region)
R34_F01 = [0.10,0.12,0.20,0.40,0.15,0.20,0.10,0.18,0.12,0.20,0.10,0.15,0.11,0.18,0.10,0.20,0.12,0.16,0.10,0.22,
           0.11,0.15,0.10,0.12,0.18,0.10,0.22,0.12,0.10,0.16,0.10,0.20,0.12,0.10,0.18,0.11,0.15,0.10,0.12,0.10,
           0.20,0.11,0.10,0.14,0.10,0.35,0.30,0.15,0.20,0.12,0.18,0.30,0.14,0.20,0.11,0.10,0.12,0.10,0.11,0.15,0.10]
R34_F02 = [0.45,0.20,0.50,0.75,0.40,0.45,0.10,0.40,0.25,0.50,0.08,0.10,0.30,0.15,0.10,0.55,0.30,0.40,0.30,0.20,
           0.10,0.08,0.15,0.10,0.55,0.08,0.30,0.35,0.45,0.20,0.35,0.10,0.55,0.35,0.10,0.20,0.60,0.10,0.30,0.20,
           0.45,0.10,0.08,0.15,0.10,0.50,0.60,0.30,0.25,0.35,0.40,0.30,0.10,0.08,0.10,0.07,0.08,0.06,0.10,0.08,0.25]
R34_F03 = [0.45,0.40,0.48,0.46,0.50,0.45,0.55,0.62,0.58,0.60,0.65,0.70,0.66,0.62,0.64,0.60,0.66,0.62,0.55,0.60,
           0.58,0.56,0.50,0.52,0.45,0.48,0.42,0.46,0.40,0.42,0.45,0.38,0.40,0.36,0.38,0.32,0.25,0.35,0.30,0.28,
           0.35,0.22,0.30,0.25,0.32,0.38,0.30,0.35,0.28,0.40,0.32,0.38,0.35,0.30,0.38,0.28,0.45,0.50,0.48,0.55,0.50]
R34_F04 = [0.40,0.38,0.45,0.42,0.48,0.46,0.55,0.60,0.56,0.62,0.70,0.74,0.68,0.64,0.66,0.62,0.72,0.64,0.58,0.62,
           0.56,0.58,0.52,0.50,0.46,0.50,0.44,0.42,0.38,0.45,0.40,0.36,0.42,0.34,0.38,0.30,0.26,0.32,0.28,0.30,
           0.25,0.32,0.26,0.30,0.35,0.40,0.32,0.38,0.30,0.40,0.34,0.42,0.30,0.26,0.40,0.35,0.48,0.52,0.46,0.50,0.46]
R34_F05 = [0.50,0.40,0.55,0.45,0.58,0.52,0.60,0.56,0.62,0.58,0.70,0.85,0.72,0.66,0.70,0.68,0.72,0.74,0.66,0.70,
           0.76,0.72,0.62,0.56,0.60,0.55,0.52,0.58,0.48,0.45,0.52,0.44,0.40,0.48,0.42,0.35,0.25,0.40,0.38,0.42,
           0.36,0.20,0.40,0.36,0.44,0.38,0.50,0.42,0.55,0.40,0.46,0.38,0.44,0.20,0.30,0.25,0.45,0.50,0.44,0.52,0.48]
R34_F06 = [0.60,0.66,0.42,0.62,0.68,0.55,0.64,0.45,0.62,0.66,0.40,0.60,0.64,0.58,0.66,0.48,0.62,0.60,0.66,0.58,
           0.64,0.55,0.60,0.66,0.62,0.70,0.66,0.72,0.68,0.74,0.76,0.72,0.78,0.74,0.70,0.76,0.72,0.78,0.82,0.60,
           0.74,0.78,0.72,0.80,0.76,0.70,0.74,0.66,0.72,0.68,0.74,0.70,0.66,0.40,0.60,0.55,0.66,0.62,0.58,0.64,0.55]
R34_F07 = [0.88,0.87,0.88,0.86,0.88,0.87,0.88,0.88,0.87,0.88,0.86,0.88,0.87]
R34_F08 = [0.20,0.35,0.25,0.40,0.22,0.18,0.30,0.20,0.25,0.18,0.28,0.22,0.20,0.30,0.18,0.25,0.20,0.22,0.28,0.20,
           0.35,0.20,0.24,0.45,0.22,0.30,0.20,0.25,0.35,0.22,0.48,0.20,0.26,0.30,0.22,0.45,0.20,0.48,0.30,0.25,
           0.20,0.35,0.22,0.30,0.50,0.70,0.40,0.30,0.45,0.22,0.30,0.48,0.25,0.45,0.22,0.28,0.20,0.35,0.22,0.42,0.25]
R34_F09 = [0.55,0.25,0.62,0.50,0.66,0.30,0.60,0.56,0.64,0.40,0.58,0.62,0.35,0.60,0.55,0.66,0.45,0.62,0.58,0.64,
           0.40,0.60,0.66,0.58,0.62,0.30,0.64,0.60,0.56,0.62,0.58,0.66,0.35,0.62,0.20,0.60,0.66,0.30,0.58,0.62,
           0.20,0.64,0.66,0.60,0.20,0.62,0.64,0.60,0.66,0.58,0.62,0.30,0.25,0.60,0.25,0.55,0.20,0.62,0.30,0.25,0.60]
R34_F10 = [0.55,0.30,0.60,0.40,0.65,0.20,0.55,0.62,0.35,0.50,0.15,0.58,0.40,0.62,0.25,0.55,0.50,0.10,0.60,0.35,
           0.55,0.62,0.15,0.50,0.40,0.60,0.20,0.55,0.62,0.68,0.60,0.55,0.65,0.58,0.50,0.15,0.62,0.55,0.68,0.10,
           0.45,0.70,0.10,0.40,0.65,0.10,0.62,0.70,0.55,0.65,0.60,0.15,0.60,0.10,0.62,0.10,0.08,0.10,0.55,0.10,0.60]
R34_F11 = [0.55,0.40,0.62,0.58,0.50,0.30,0.60,0.55,0.62,0.58,0.64,0.60,0.56,0.62,0.58,0.66,0.60,0.55,0.62,0.58,
           0.60,0.55,0.62,0.58,0.50,0.60,0.56,0.40,0.58,0.30,0.55,0.50,0.45,0.35,0.25,0.70,0.89,0.88,0.60,0.89,
           0.88,0.89,0.70,0.89,0.88,0.89,0.65,0.88,0.89,0.70,0.88,0.89,0.90,0.88,0.60,0.89,0.88,0.89,0.88,0.90,0.88]
R34_F12 = [0.56,0.58,0.59,0.57,0.52,0.45,0.38,0.33,0.31,0.32,0.38,0.47,0.56]
R34_F13 = [0.44,0.44,0.50,0.50,0.44,0.44,0.44,0.44,0.44,0.50,0.50,0.50,0.44]
R34_F14 = [0.24,0.24,0.22,0.18,0.14,0.10,0.06,0.04,0.04,0.06,0.12,0.18,0.24]

# ---------------------------------------------------------------- assemble rows
ROWS = [
    dict(scatter=R1_SCATTER, scatter_b=R1_SCATTER_B, weekly=R1_WEEKLY, fit=R1_FIT, red=R1_RED,
         blue=R1_BLUE, orange=R1_ORANGE, prod=R1_PROD, trend=R1_TREND, grid=RIGHT_GRID_R1,
         feats=[R1_F01, R1_F02, R1_F03, R1_F04, R1_F05, R1_F06, R1_F07, R1_F08, R1_F09, R1_F10,
                R1_F11, R1_F12, R1_F13, R1_F14]),
    dict(scatter=R2_SCATTER, scatter_b=R2_SCATTER_B, weekly=R2_WEEKLY, fit=R2_FIT, red=R2_RED,
         blue=R2_BLUE, orange=R2_ORANGE, prod=R2_PROD, trend=R2_TREND, grid=RIGHT_GRID_R234,
         feats=[R2_F01, R2_F02, R2_F03, R2_F04, R2_F05, R2_F06, R2_F07, R2_F08, R2_F09, R2_F10,
                R2_F11, R2_F12, R2_F13, R2_F14]),
    dict(scatter=R3_SCATTER, scatter_b=R3_SCATTER_B, weekly=R3_WEEKLY, fit=R3_FIT, red=R34_RED,
         blue=R34_BLUE, orange=R34_ORANGE, prod=R3_PROD, trend=R3_TREND, grid=RIGHT_GRID_R234,
         feats=[R34_F01, R34_F02, R34_F03, R34_F04, R34_F05, R34_F06, R34_F07, R34_F08, R34_F09, R34_F10,
                R34_F11, R34_F12, R34_F13, R34_F14]),
    dict(scatter=R4_SCATTER, scatter_b=R4_SCATTER_B, weekly=R4_WEEKLY, fit=R4_FIT, red=R34_RED,
         blue=R34_BLUE, orange=R34_ORANGE, prod=R4_PROD, trend=R4_TREND, grid=RIGHT_GRID_R234,
         feats=[R34_F01, R34_F02, R34_F03, R34_F04, R34_F05, R34_F06, R34_F07, R34_F08, R34_F09, R34_F10,
                R34_F11, R34_F12, R34_F13, R34_F14]),
]

# ---------------------------------------------------------------- style
sns.set_theme(style="whitegrid")
plt.rcParams["font.family"] = ["Liberation Sans", "DejaVu Sans"]
PAL = sns.color_palette("deep")
BLUE, ORANGE, RED = PAL[0], PAL[1], PAL[3]

W, H = 1256, 1520
fig = plt.figure(figsize=(W / 100, H / 100), dpi=100)

SPAN = 365.0


def xs(arr, lo=0.0, hi=SPAN):
    return np.linspace(lo, hi, len(arr))


ROW_TOPS = [24, 406, 788, 1170]
AX_H = 324

for r, (row, top) in enumerate(zip(ROWS, ROW_TOPS)):
    bottom = 1 - (top + AX_H) / H
    axl = fig.add_axes([31 / W, bottom, 339 / W, AX_H / H])
    axr = fig.add_axes([371 / W, bottom, 851 / W, AX_H / H])

    # ---------------- overview (left)
    sc = np.array(row["scatter"])
    sns.scatterplot(x=xs(sc), y=sc, ax=axl, color="#7f7f7f", s=3.5, linewidth=0, zorder=2)
    sb = np.array(row["scatter_b"])
    sns.scatterplot(x=xs(sb, 3, 362), y=sb, ax=axl, color="#7f7f7f", s=3.5, linewidth=0, zorder=2)
    for key, col, lw in (("red", RED, 1.0), ("blue", BLUE, 1.3), ("orange", ORANGE, 1.0)):
        arr = np.array(row[key])
        sns.lineplot(x=xs(arr), y=arr, ax=axl, color=col, lw=lw, zorder=3)
    wk = np.array(row["weekly"])
    sns.lineplot(x=xs(wk), y=wk, ax=axl, color=BLUE, lw=2.2, zorder=4)
    ft = np.array(row["fit"])
    sns.lineplot(x=xs(ft), y=ft, ax=axl, color="orange", lw=1.6, linestyle="--", zorder=5)
    axl.axvline(CUTOFF_DAY[r], color="#e8605c", linestyle="--", lw=1.1, zorder=6)

    axl.set_xlim(0, SPAN)
    axl.set_ylim(0, 1)
    axl.set_xticks([0] + MONTH_STARTS + [SPAN])
    axl.set_xticklabels([LEFT_TICK_LABELS[0]] + [""] * len(MONTH_STARTS) + [LEFT_TICK_LABELS[1]], fontsize=11)
    tl = axl.get_xticklabels()
    tl[0].set_ha("left")
    tl[-1].set_ha("right")
    axl.set_yticks([0, 0.2, 0.4, 0.6, 0.8, 1.0])
    axl.set_yticklabels(["0", "", "", "", "", "1"], fontsize=7)
    axl.tick_params(axis="y", pad=3)
    axl.tick_params(axis="x", pad=1)
    axl.set_title("Overview", fontsize=8.5, pad=3)
    axl.set_xlabel("Date", fontsize=14)
    axl.xaxis.set_label_coords(0.5, -0.056)
    axl.xaxis.label.set_va("center")
    axl.set_ylabel("Production", fontsize=14)
    axl.yaxis.set_label_coords(-0.04, 0.5)
    axl.yaxis.label.set_va("center")

    # ---------------- features (right)
    pr = 14 + 4 * np.array(row["prod"])
    sns.lineplot(x=xs(pr), y=pr, ax=axr, color=BLUE, lw=1.2, zorder=3)
    tr = 14 + 4 * np.array(row["trend"])
    sns.lineplot(x=xs(tr), y=tr, ax=axr, color="orange", lw=1.2, linestyle="--", zorder=4)
    for k, arr in enumerate(row["feats"], start=1):
        yv = (14 - k) + np.array(arr)
        sns.lineplot(x=xs(yv), y=yv, ax=axr, color=PAL[k % 10], lw=1.1, zorder=3)
        axr.text(364, (14 - k) + 0.6, str(k), fontsize=6.5, fontweight="bold",
                 ha="right", va="center", color="#222222", zorder=6)
    axr.axhline(14, color="#c8c8c8", lw=2.4, zorder=1)

    axr.set_xlim(0, SPAN)
    axr.set_ylim(0, 18)
    grid = row["grid"]
    axr.set_xticks([0] + grid + [SPAN])
    axr.set_xticklabels([RIGHT_TICK_LABELS[r][0]] + [""] * len(grid) + [RIGHT_TICK_LABELS[r][1]], fontsize=11)
    tr_labels = axr.get_xticklabels()
    tr_labels[0].set_ha("left")
    tr_labels[-1].set_ha("right")
    axr.tick_params(axis="x", pad=1)
    axr.set_yticks(list(range(0, 15)) + [14.8, 15.6, 16.4, 17.2, 18])
    axr.set_yticklabels([])
    axr.set_title("Features", fontsize=10.5, pad=3)
    axr.set_xlabel("Date", fontsize=14)
    axr.xaxis.set_label_coords(0.5, -0.056)
    axr.xaxis.label.set_va("center")
    axr.set_ylabel("Value", fontsize=14)
    axr.yaxis.set_label_position("right")
    axr.yaxis.set_label_coords(1.0165, 0.5)
    axr.yaxis.label.set_va("center")

    fig.text(627 / W, 1 - (top - 11) / H, PLANT_TITLES[r], fontsize=14, ha="center", va="center")

fig.savefig("out.png", dpi=100)
